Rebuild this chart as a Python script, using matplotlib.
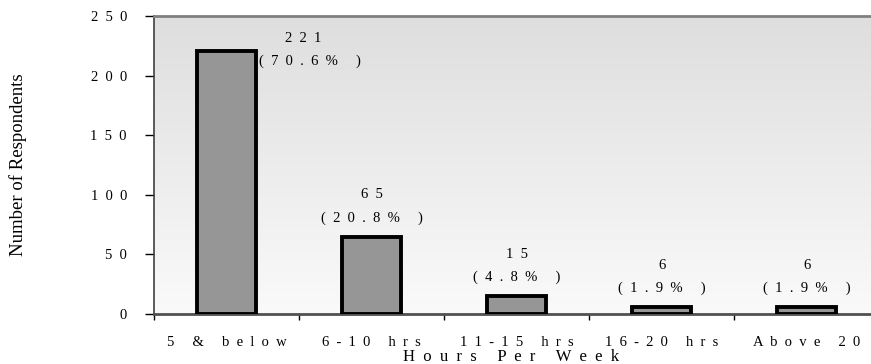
import matplotlib
matplotlib.use("Agg")
import matplotlib.pyplot as plt
import numpy as np
from matplotlib.colors import LinearSegmentedColormap

categories = ["5 & below", "6-10 hrs", "11-15 hrs", "16-20 hrs", "Above 20"]
counts = [221, 65, 15, 6, 6]
percents = ["70.6%", "20.8%", "4.8%", "1.9%", "1.9%"]
yticks = [0, 50, 100, 150, 200, 250]
xlabel = "Hours Per Week"
ylabel = "Number of Respondents"


def spaced(s, sep="  "):
    return sep.join(list(s))


plt.rcParams['font.family'] = ['Liberation Serif', 'DejaVu Serif']

fig = plt.figure(figsize=(8.71, 3.64), dpi=100)
ax = fig.add_axes([154 / 871, 50 / 364, 725 / 871, 298 / 364])
x = np.arange(len(categories))

grad = np.linspace(0, 1, 256).reshape(-1, 1)
cmap = LinearSegmentedColormap.from_list('g', ['#fafafa', '#dedede'])
ax.imshow(grad, cmap=cmap, origin='lower', extent=[0, 1, 0, 1],
          transform=ax.transAxes, aspect='auto', zorder=0)

ax.bar(x, counts, width=0.41, color='#969696', edgecolor='black',
       linewidth=2.8, zorder=3)
ax.set_xlim(-0.5, 4.5)
ax.set_ylim(0, 250)

# labels on bars
for i, (c, p) in enumerate(zip(counts, percents)):
    ptxt = spaced("(" + p + " )")
    if i == 0:
        ax.annotate(spaced(str(c)), xy=(x[i], c), xytext=(55, 9),
                    textcoords='offset points', ha='center', va='center',
                    fontsize=10.5, zorder=5)
        ax.annotate(ptxt, xy=(x[i], c), xytext=(60, -8),
                    textcoords='offset points', ha='center', va='center',
                    fontsize=10.5, zorder=5)
    else:
        ax.annotate(spaced(str(c)), xy=(x[i], c), xytext=(0, 30),
                    textcoords='offset points', ha='center', va='center',
                    fontsize=10.5, zorder=5)
        ax.annotate(ptxt, xy=(x[i], c), xytext=(0, 13.5),
                    textcoords='offset points', ha='center', va='center',
                    fontsize=10.5, zorder=5)

# y axis
ax.set_yticks(yticks)
ax.set_yticklabels([spaced(str(t)) for t in yticks])
ax.tick_params(axis='y', direction='out', length=6.5, width=1, color='black',
               labelsize=10.5, pad=13)

# x axis: boundary ticks + centered labels
ax.set_xticks(np.arange(len(categories) + 1) - 0.5)
ax.set_xticklabels([])
ax.set_xticks(x, minor=True)
ax.set_xticklabels([spaced(c) for c in categories], minor=True)
ax.tick_params(axis='x', which='major', direction='out', length=4, width=1,
               color='black')
ax.tick_params(axis='x', which='minor', length=0, labelsize=10.5, pad=16)

for s in ['right']:
    ax.spines[s].set_visible(False)
ax.spines['top'].set_color('#808080')
ax.spines['top'].set_linewidth(2)
ax.spines['left'].set_color('#404040')
ax.spines['left'].set_linewidth(1.2)
ax.spines['bottom'].set_color('#505050')
ax.spines['bottom'].set_linewidth(2)

fig.text(511 / 871, 1 - 357 / 364, spaced(xlabel), ha='center', va='center',
         fontsize=12)
fig.text(18.5 / 871, 1 - 165 / 364, ylabel, rotation=90, ha='center',
         va='center', fontsize=13.5)

fig.savefig("out.png", dpi=100)
